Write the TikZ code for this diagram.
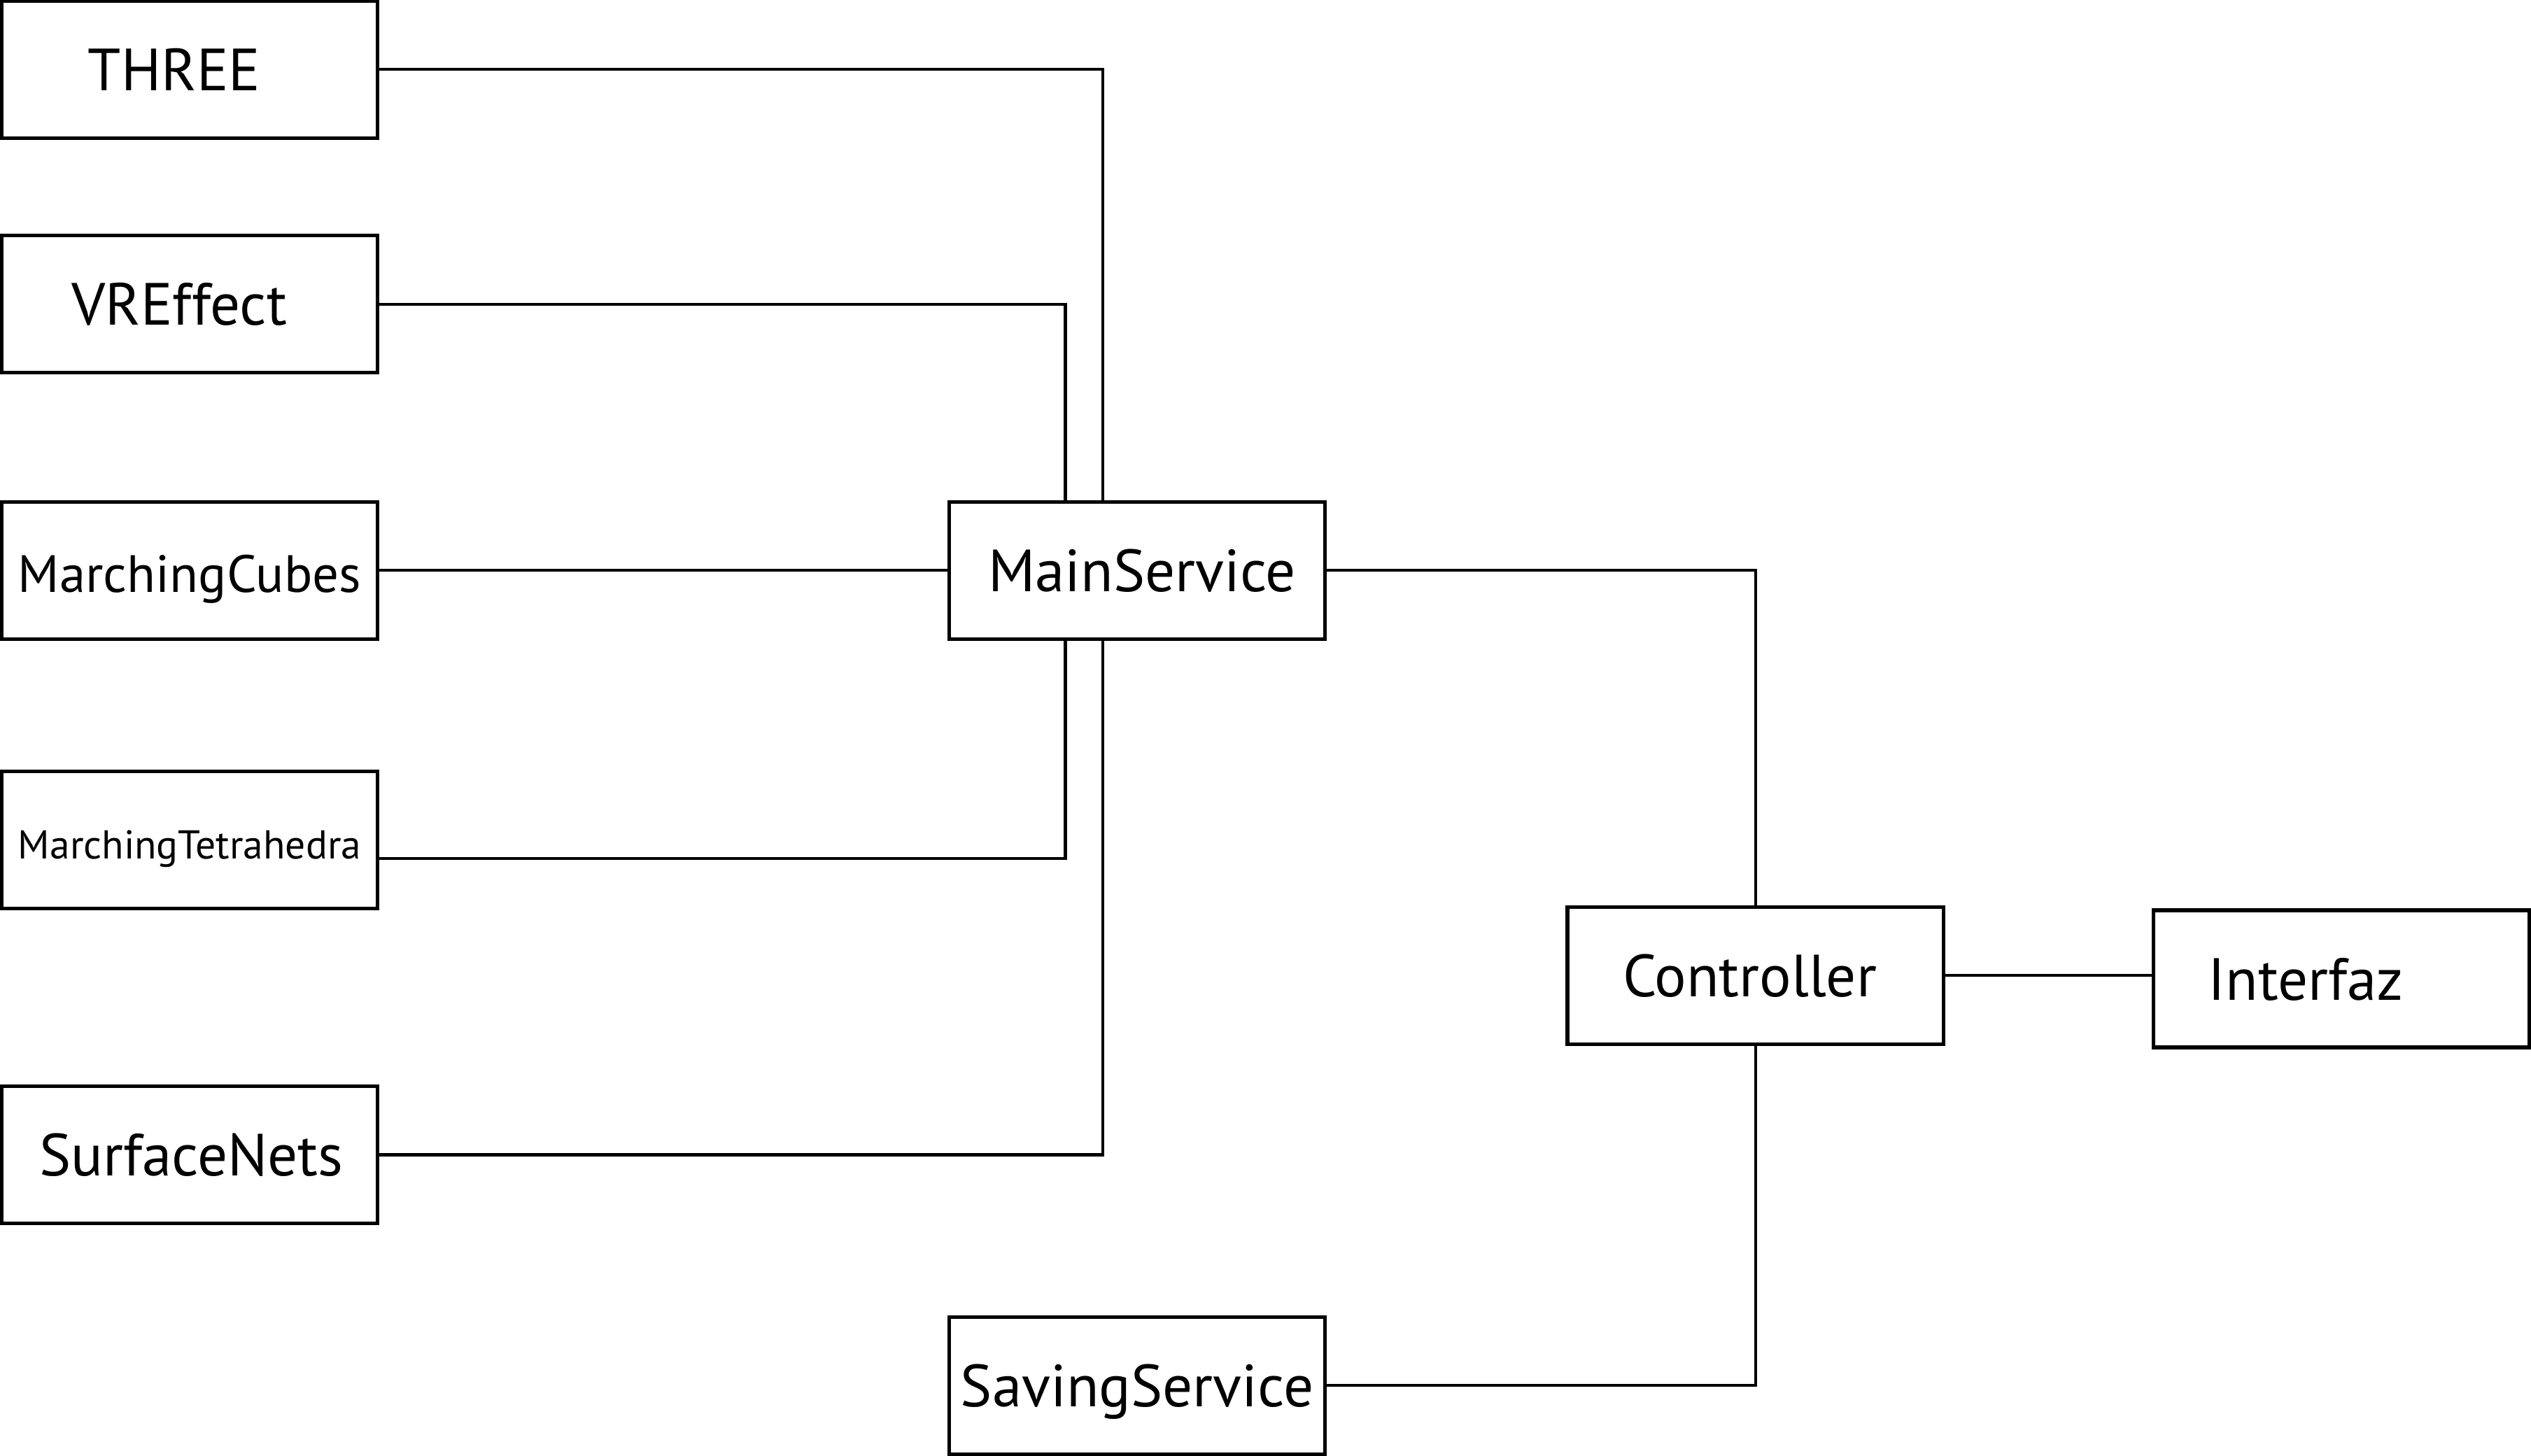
\documentclass[tikz,border=0pt]{standalone}
\usepackage{fontspec}
\setmainfont{PT Sans}
\usepackage{tikz}

% text moved sideways inside its box by #1
\newcommand{\offtext}[2]{\hspace*{#1}#2}

\begin{document}
\begin{tikzpicture}[x=0.02cm,y=-0.02cm,
    box/.style={draw,line width=1.3pt,minimum width=4.66cm,minimum height=1.70cm,inner sep=0pt,
      font=\fontsize{21}{25}\selectfont,text height=0.52cm,text depth=0pt},
    link/.style={line width=1pt}]
  \useasboundingbox (0,0) rectangle (1568,902);

  \node[box] (three) at (117.5,43) {\offtext{-0.38cm}{THREE}};
  \node[box] (vreffect) at (117.5,188.5) {\offtext{-0.26cm}{VREffect}};
  \node[box,font=\fontsize{18.5}{22}\selectfont,text height=0.54cm] (mcubes) at (117.5,353.5) {MarchingCubes};
  \node[box,font=\fontsize{14.2}{17}\selectfont,text height=0.46cm] (mtetra) at (117.5,520.5) {MarchingTetrahedra};
  \node[box] (surfnets) at (117.5,715.5) {\offtext{0.04cm}{SurfaceNets}};
  \node[box] (mainsvc) at (704.5,353.5) {\offtext{0.12cm}{MainService}};
  \node[box] (savingsvc) at (704.5,858.5) {SavingService};
  \node[box] (controller) at (1087.5,604.5) {\offtext{-0.14cm}{Controller}};
  \node[box] (interfaz) at (1450.5,606.5) {\offtext{-0.88cm}{Interfaz}};

  % left side into MainService
  \draw[link] (three.east) -| ([xshift=-0.43cm]mainsvc.north);
  \draw[link] (vreffect.east) -| ([xshift=-0.89cm]mainsvc.north);
  \draw[link] (mcubes.east) -- (mainsvc.west);
  \draw[link] ([yshift=-0.23cm]mtetra.east) -| ([xshift=-0.89cm]mainsvc.south);
  \draw[link] (surfnets.east) -| ([xshift=-0.43cm]mainsvc.south);

  % right side
  \draw[link] (mainsvc.east) -| (controller.north);
  \draw[link] (controller.east) -- (controller.east -| interfaz.west);
  \draw[link] (controller.south) |- (savingsvc.east);
\end{tikzpicture}
\end{document}
